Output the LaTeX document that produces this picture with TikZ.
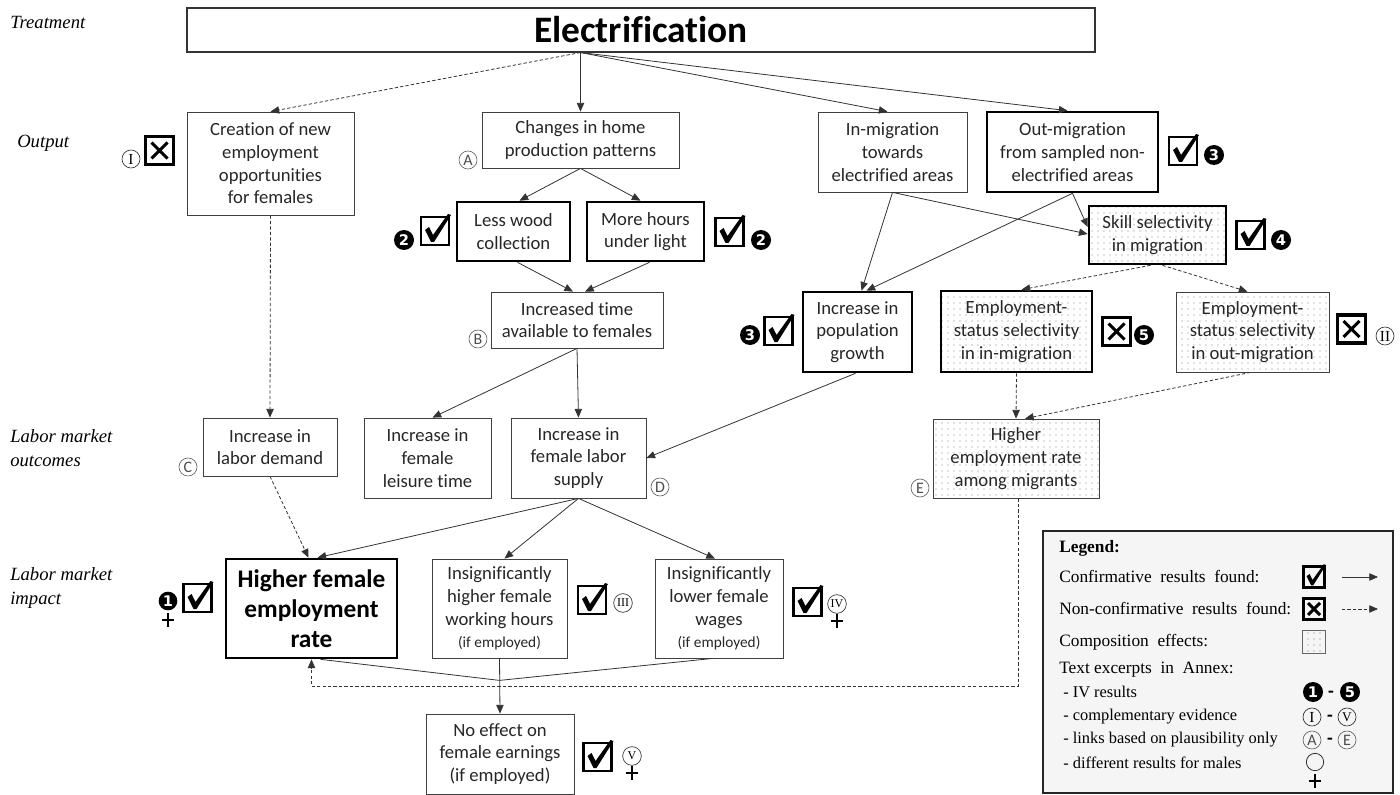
\documentclass[tikz,border=0pt]{standalone}
\usepackage{fontspec}
\setmainfont{Liberation Serif}
\newfontfamily\carl[Ligatures=NoCommon]{Carlito}
\newfontfamily\dvs{DejaVu Sans}
\usetikzlibrary{arrows.meta,patterns.meta,calc}
\tikzset{
 nbox/.style={draw=black!75, line width=0.6pt, align=center, inner sep=1pt, text=black!85, font=\carl\fontsize{14}{17}\selectfont},
 heavy/.style={draw=black, line width=2pt},
 dotfill/.style={pattern={Dots[distance=4.5pt,radius=0.4pt]}, pattern color=black!50},
 sz/.style n args={2}{minimum width=#1*0.75pt, minimum height=#2*0.75pt},
 arr/.style={draw=black!80, line width=0.6pt, -{Triangle[length=6.5pt,width=5.5pt]}},
 darr/.style={arr, dash pattern=on 2.5pt off 1.6pt},
 rowlab/.style={anchor=west, inner sep=0pt, align=left, font=\itshape\fontsize{14}{17.5}\selectfont},
 rcirc/.style={circle, draw=black!80, line width=0.5pt, inner sep=0pt, minimum size=13.5pt, font=\fontsize{11.5}{11.5}\selectfont},
 srcirc/.style={rcirc, minimum size=14pt, font=\fontsize{9}{9}\selectfont},
 lcirc/.style={circle, draw=black!60, line width=0.5pt, inner sep=0pt, minimum size=13.5pt, text=black!70, font=\carl\fontsize{12}{12}\selectfont},
 numb/.style={circle, fill=black, text=white, inner sep=0pt, minimum size=15pt, font=\dvs\bfseries\fontsize{11}{11}\selectfont},
 dashsym/.style={inner sep=0pt, font=\carl\bfseries\fontsize{14}{14}\selectfont},
 legt/.style={anchor=west, inner sep=0pt, font=\fontsize{13}{15}\selectfont},
 legs/.style={legt, font=\fontsize{12.3}{15}\selectfont},
 chkbox/.pic={
   \draw[line width=2.2pt] (-14,-14) rectangle (14,14);
   \fill (-10,-1) -- (-6,-4) -- (-2,4) -- (13,-17) -- (16,-16) -- (-1,11) -- (-4,11) -- cycle;
 },
 xbox/.pic={
   \draw[line width=2.6pt] (-14,-14) rectangle (14,14);
   \draw[line width=2.2pt] (-8,-8) -- (8,8) (-8,8) -- (8,-8);
 },
 femcross/.pic={
   \draw[line width=1.1pt] (0,-7) -- (0,7) (-6,0) -- (6,0);
 }
}
\begin{document}
\begin{tikzpicture}[x=0.75pt,y=-0.75pt]
\useasboundingbox (0,0) rectangle (1400,795);

% row labels
\node[rowlab] (lt) at (10,22) {Treatment};
\node[rowlab] (lo) at (17,143) {Output};
\node[rowlab] (lm) at (10,448) {Labor market\\outcomes};
\node[rowlab] (li) at (10,588) {Labor market\\impact};

% boxes
\node[nbox, heavy, draw=black!80, line width=0.8pt, sz={908}{44}, font=\carl\bfseries\fontsize{28}{30}\selectfont, text=black] (elec) at (641,30) {Electrification};
\node[nbox, sz={167}{103}] (creation) at (270.5,163.5) {Creation of new\\employment\\opportunities\\for females};
\node[nbox, sz={197}{56}] (changes) at (580.5,140) {Changes in home\\production patterns};
\node[nbox, heavy, sz={113}{59}] (lesswood) at (513.5,231.5) {Less wood\\collection};
\node[nbox, heavy, sz={117}{59}] (morehours) at (645.5,231.5) {More hours\\under light};
\node[nbox, sz={149}{80}] (inmig) at (892.5,152) {In-migration\\towards\\electrified areas};
\node[nbox, heavy, sz={171}{80}] (outmig) at (1072.5,152) {Out-migration\\from sampled non-\\electrified areas};
\node[nbox, heavy, dotfill, sz={137}{58}] (skill) at (1157.5,235) {Skill selectivity\\in migration};
\node[nbox, sz={172}{56}] (inctime) at (577,320) {Increased time\\available to females};
\node[nbox, heavy, sz={109}{80}] (popgrowth) at (857.5,332) {Increase in\\population\\growth};
\node[nbox, heavy, dotfill, sz={151}{81}] (esin) at (1016.5,331.5) {Employment-\\status selectivity\\in in-migration};
\node[nbox, dotfill, sz={153}{80}] (esout) at (1252.5,332) {Employment-\\status selectivity\\in out-migration};
\node[nbox, sz={134}{58}] (labdem) at (270,447) {Increase in\\labor demand};
\node[nbox, sz={127}{80}] (leisure) at (427.5,458) {Increase in\\female\\leisure time};
\node[nbox, sz={135}{80}] (labsup) at (578.5,458) {Increase in\\female labor\\supply};
\node[nbox, dotfill, sz={166}{79}] (highemp) at (1016,458.5) {Higher\\employment rate\\among migrants};
\node[nbox, heavy, sz={171}{99}, font=\carl\bfseries\fontsize{19}{22.5}\selectfont, text=black] (hfer) at (311.5,608.5) {Higher female\\employment\\rate};
\node[nbox, sz={135}{99}] (hours) at (499.5,608.5) {Insignificantly\\higher female\\working hours\\{\fontsize{11.5}{15}\selectfont (if employed)}};
\node[nbox, sz={128}{99}] (wages) at (719,608.5) {Insignificantly\\lower female\\wages\\{\fontsize{11.5}{15}\selectfont (if employed)}};
\node[nbox, sz={148}{80}] (noeff) at (500,754) {No effect on\\female earnings\\(if employed)};

% connectors
\coordinate (eo) at (elec.south -| changes.north);
\draw[darr] (eo) -- (creation.north);
\draw[arr] (eo) -- (changes.north);
\draw[arr] (eo) -- ($(inmig.north)+(-5,0)$);
\draw[arr] (eo) -- ($(outmig.north)+(-5,0)$);
\draw[arr] (changes.south) -- ($(lesswood.north)+(6,0)$);
\draw[arr] (changes.south) -- ($(morehours.north)+(-5,0)$);
\draw[arr] ($(lesswood.south)+(4,0)$) -- ($(inctime.north)+(-4,0)$);
\draw[arr] ($(morehours.south)+(4,0)$) -- ($(inctime.north)+(8,0)$);
\draw[arr] (inctime.south) -- ($(leisure.north)+(5,0)$);
\draw[arr] (inctime.south) -- (labsup.north);
\draw[darr] (creation.south) -- (labdem.north);
\draw[arr] (inmig.south) -- ($(popgrowth.north)+(4,0)$);
\draw[arr] (inmig.south) -- ($(skill.west)+(0,-1)$);
\draw[arr] (outmig.south) -- ($(popgrowth.north)+(9,0)$);
\draw[arr] (outmig.south) -- ($(skill.west)+(0,-8)$);
\draw[arr] ($(popgrowth.south)+(-2,0)$) -- (labsup.east);
\draw[darr] ($(skill.south)+(-7,0)$) -- ($(esin.north)+(5,0)$);
\draw[darr] ($(skill.south)+(5,0)$) -- ($(esout.north)+(-5,0)$);
\draw[darr] (esin.south) -- (highemp.north);
\draw[darr] ($(esout.south)+(-2,0)$) -- ($(highemp.north)+(9,0)$);
\draw[darr] (labdem.south) -- ($(hfer.north)+(-3,0)$);
\draw[arr] (labsup.south) -- ($(hfer.north)+(6,0)$);
\draw[arr] (labsup.south) -- ($(hours.north)+(5,0)$);
\draw[arr] (labsup.south) -- ($(wages.north)+(-4,0)$);
\draw[darr] ($(highemp.south)+(2,0)$) -- ++(0,188) -| (hfer.south);
\coordinate (merge) at ($(hours.south)+(0,22)$);
\draw[draw=black!80, line width=0.6pt] ($(hfer.south)+(9,0)$) -- (merge);
\draw[draw=black!80, line width=0.6pt] ($(wages.south)+(-6,0)$) -- (merge);
\draw[arr] (hours.south) -- (noeff.north);

% result markers
\node[rcirc] (cI) at (131,159) {I};
\pic at (159.5,150.5) {xbox};
\node[lcirc] (cA) at (468,160) {A};
\node[numb] (n2a) at (404,240) {2};
\pic at (435,231) {chkbox};
\pic at (729.5,232) {chkbox};
\node[numb] (n2b) at (761,240) {2};
\pic at (1183,151) {chkbox};
\node[numb] (n3a) at (1214,155) {3};
\pic at (1250.5,235) {chkbox};
\node[numb] (n4) at (1281,240) {4};
\node[lcirc] (cB) at (478,339) {B};
\node[numb] (n3b) at (750,335) {3};
\pic at (778.5,331) {chkbox};
\pic at (1116.5,331.5) {xbox};
\node[numb] (n5) at (1144,335) {5};
\pic at (1351.5,329) {xbox};
\node[rcirc] (cII) at (1385,336) {II};
\node[lcirc] (cC) at (188,467) {C};
\node[lcirc] (cD) at (660,487) {D};
\node[lcirc] (cE) at (920,488) {E};
\node[numb, minimum size=14pt] (n1) at (168,601) {1};
\pic at (168,620) {femcross};
\pic at (197.5,598) {chkbox};
\pic at (592,600) {chkbox};
\node[srcirc] (cIII) at (623,603) {III};
\pic at (807.5,602) {chkbox};
\node[srcirc] (cIV) at (837,604) {IV};
\pic at (837,621) {femcross};
\pic at (597.5,757) {chkbox};
\node[srcirc] (cV) at (632,756) {V};
\pic at (632,773) {femcross};

% legend
\node[draw=black!85, line width=1.3pt, fill=black!4, sz={350}{262}] (legend) at (1218,662) {};
\node[legt, font=\bfseries\fontsize{13}{15}\selectfont] (lg0) at (1059,548) {Legend:};
\node[legt] (lg1) at (1059,577) {Confirmative\ \ results\ \ found:};
\node[legt] (lg2) at (1059,609) {Non-confirmative\ \ results\ \ found:};
\node[legt] (lg3) at (1059,642) {Composition\ \ effects:};
\node[legt] (lg4) at (1059,670) {Text excerpts\ \ in\ \ Annex:};
\node[legs] (lg5) at (1063,692) {- IV results};
\node[legs] (lg6) at (1063,717) {- complementary evidence};
\node[legs] (lg7) at (1063,740) {- links based on plausibility only};
\node[legs] (lg8) at (1063,763) {- different results for males};
\pic[scale=0.75] at (1314,577) {chkbox};
\pic[scale=0.75] at (1314,609) {xbox};
\coordinate (la1) at (1342,577); \coordinate (la2) at (1378,577);
\coordinate (lb1) at (1342,609); \coordinate (lb2) at (1378,609);
\draw[arr] (la1) -- (la2);
\draw[darr] (lb1) -- (lb2);
\node[draw=black!60, line width=0.5pt, dotfill, sz={23}{23}] (lgdot) at (1314,642) {};
\node[numb] (ln1) at (1313,692) {1};
\node[dashsym] (ld1) at (1331,694) {-};
\node[numb] (ln5) at (1350,692) {5};
\node[rcirc] (lI) at (1312,717) {I};
\node[dashsym] (ld2) at (1330,718) {-};
\node[rcirc, font=\fontsize{10}{10}\selectfont] (lV) at (1347,717) {V};
\node[lcirc] (lA) at (1312,740) {A};
\node[dashsym] (ld3) at (1330,741) {-};
\node[lcirc] (lE) at (1347,740) {E};
\node[circle, draw=black!80, line width=0.6pt, inner sep=0pt, minimum size=13pt] (lfem) at (1315,762) {};
\pic at (1315,781) {femcross};
\end{tikzpicture}
\end{document}
